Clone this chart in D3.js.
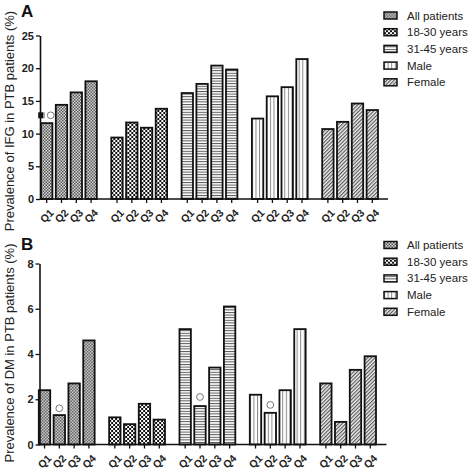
<!DOCTYPE html>
<html><head><meta charset="utf-8">
<script src="https://cdn.jsdelivr.net/npm/d3@7"></script>
<style>body{margin:0;background:#fff}svg{display:block}text{font-family:"Liberation Sans",Arial,sans-serif}</style>
</head><body>
<script>
// ---- data ----
const groups = ["All patients", "18-30 years", "31-45 years", "Male", "Female"];
const quarters = ["Q1", "Q2", "Q3", "Q4"];
// Panel A: prevalence of IFG (%)
const ifgAll    = [11.6, 14.4, 16.3, 18.0];
const ifg1830   = [9.4, 11.7, 10.9, 13.8];
const ifg3145   = [16.2, 17.6, 20.4, 19.8];
const ifgMale   = [12.3, 15.7, 17.1, 21.4];
const ifgFemale = [10.7, 11.8, 14.6, 13.6];
// Panel B: prevalence of DM (%)
const dmAll    = [2.4, 1.3, 2.7, 4.6];
const dm1830   = [1.2, 0.9, 1.8, 1.1];
const dm3145   = [5.1, 1.7, 3.4, 6.1];
const dmMale   = [2.2, 1.4, 2.4, 5.1];
const dmFemale = [2.7, 1.0, 3.3, 3.9];
const ifgTicks = [0, 5, 10, 15, 20, 25];
const dmTicks = [0, 2, 4, 6, 8];
// significance markers: [group index, quarter index, value]
const ifgSquareMarks = [[0, 0, 12.8]];
const ifgCircleMarks = [[0, 0, 12.8]];
const dmCircleMarks = [[0, 1, 1.6], [2, 1, 2.1], [3, 1, 1.75]];

const W = 472, H = 470;
const svg = d3.select("body").append("svg").attr("width", W).attr("height", H);
svg.append("rect").attr("width", W).attr("height", H).attr("fill", "#fff");

// ---- patterns ----
const defs = svg.append("defs");
const pats = ["pAll", "p1830", "p3145", "pMale", "pFemale"];
let p = defs.append("pattern").attr("id", "pAll").attr("patternUnits", "userSpaceOnUse").attr("width", 3).attr("height", 3);
p.append("rect").attr("width", 3).attr("height", 3).attr("fill", "#d8d8d8");
p.append("rect").attr("width", 1.5).attr("height", 1.5).attr("fill", "#555");
p.append("rect").attr("x", 1.5).attr("y", 1.5).attr("width", 1.5).attr("height", 1.5).attr("fill", "#555");
p = defs.append("pattern").attr("id", "p1830").attr("patternUnits", "userSpaceOnUse").attr("width", 4).attr("height", 4);
p.append("rect").attr("width", 4).attr("height", 4).attr("fill", "#fff");
p.append("rect").attr("width", 2).attr("height", 2).attr("fill", "#111");
p.append("rect").attr("x", 2).attr("y", 2).attr("width", 2).attr("height", 2).attr("fill", "#111");
p = defs.append("pattern").attr("id", "p3145").attr("patternUnits", "userSpaceOnUse").attr("width", 4).attr("height", 2.6);
p.append("rect").attr("width", 4).attr("height", 2.6).attr("fill", "#fff");
p.append("rect").attr("width", 4).attr("height", 1).attr("fill", "#555");
p = defs.append("pattern").attr("id", "pMale").attr("patternUnits", "userSpaceOnUse").attr("width", 3.6).attr("height", 4);
p.append("rect").attr("width", 3.6).attr("height", 4).attr("fill", "#fff");
p.append("rect").attr("width", 1).attr("height", 4).attr("fill", "#888");
p = defs.append("pattern").attr("id", "pFemale").attr("patternUnits", "userSpaceOnUse").attr("width", 2.6).attr("height", 2.6).attr("patternTransform", "rotate(45)");
p.append("rect").attr("width", 2.6).attr("height", 2.6).attr("fill", "#ececec");
p.append("rect").attr("width", 1.1).attr("height", 2.6).attr("fill", "#555");

function panel(cfg) {
  const { series, ticks, yMax, y0, y1, xL, xR, axisX, axisEnd, letter, letterY, title, titleY, legendY, marks } = cfg;
  const g = svg.append("g");
  const y = d3.scaleLinear().domain([0, yMax]).range([y0, y1]);
  const xg = d3.scaleBand().domain(groups).range([xL, xR]).paddingInner(0.206).paddingOuter(0);
  const xq = d3.scaleBand().domain(quarters).range([0, xg.bandwidth()]).paddingInner(0.23).paddingOuter(0);

  // bars
  groups.forEach((gn, gi) => {
    const gg = g.append("g").attr("transform", `translate(${xg(gn)},0)`);
    gg.selectAll("rect").data(series[gi]).join("rect")
      .attr("x", (d, i) => xq(quarters[i]))
      .attr("y", d => y(d))
      .attr("width", xq.bandwidth())
      .attr("height", d => y(0) - y(d))
      .attr("fill", `url(#${pats[gi]})`)
      .attr("stroke", "#111").attr("stroke-width", 1.8);
    // x axis ticks/labels for this group
    const ax = gg.append("g").attr("transform", `translate(0,${y0})`)
      .call(d3.axisBottom(xq).tickSize(4).tickSizeOuter(0));
    ax.select(".domain").remove();
    ax.selectAll(".tick line").attr("stroke", "#111").attr("stroke-width", 1.3);
    ax.selectAll(".tick text")
      .attr("font-size", 10.5).attr("font-weight", "bold").attr("fill", "#222")
      .attr("text-anchor", "end").attr("dy", "0.35em").attr("y", 0)
      .attr("transform", "translate(5,12) rotate(-45)");
  });

  // x axis line
  g.append("line").attr("x1", axisX).attr("x2", axisEnd).attr("y1", y0).attr("y2", y0)
    .attr("stroke", "#111").attr("stroke-width", 1.6);
  // y axis
  const ay = g.append("g").attr("transform", `translate(${axisX},0)`)
    .call(d3.axisLeft(y).tickValues(ticks).tickSize(4).tickSizeOuter(0).tickPadding(2));
  ay.select(".domain").attr("stroke", "#111").attr("stroke-width", 1.6);
  ay.selectAll(".tick line").attr("stroke", "#111").attr("stroke-width", 1.3);
  ay.selectAll(".tick text").attr("font-size", 11).attr("font-weight", "bold").attr("fill", "#222").attr("font-family", "Liberation Sans, Arial, sans-serif");

  // markers
  const cx = (gi, qi) => xg(groups[gi]) + xq(quarters[qi]) + xq.bandwidth() / 2;
  (marks.squares || []).forEach(([gi, qi, v]) => {
    g.append("rect").attr("x", cx(gi, qi) - 8.5).attr("y", y(v) - 3).attr("width", 5).attr("height", 6).attr("fill", "#111");
    g.append("rect").attr("x", cx(gi, qi) - 3.5).attr("y", y(v) - 3).attr("width", 1.5).attr("height", 6).attr("fill", "#888");
  });
  (marks.circles || []).forEach(([gi, qi, v]) => {
    g.append("circle").attr("cx", cx(gi, qi) + ((marks.squares || []).length ? 4 : 0)).attr("cy", y(v)).attr("r", 3.4)
      .attr("fill", "#fff").attr("stroke", "#777").attr("stroke-width", 1);
  });

  // letter + title
  g.append("text").attr("x", 21).attr("y", letterY).text(letter)
    .attr("font-size", 17).attr("font-weight", "bold").attr("fill", "#111");
  g.append("text").attr("transform", `translate(14,${titleY}) rotate(-90)`)
    .attr("text-anchor", "middle").attr("font-size", 13).attr("fill", "#222").text(title);

  // legend
  const lg = g.append("g").attr("transform", `translate(384,${legendY})`);
  groups.forEach((gn, gi) => {
    const row = lg.append("g").attr("transform", `translate(0,${gi * 16.7})`);
    row.append("rect").attr("x", 0).attr("y", -3.5).attr("width", 13).attr("height", 7)
      .attr("fill", `url(#${pats[gi]})`).attr("stroke", "#111").attr("stroke-width", 1.5);
    row.append("text").attr("x", 23).attr("y", 0).attr("dy", "0.35em").attr("font-size", 11.5).attr("fill", "#222").text(gn);
  });
}

panel({
  series: [ifgAll, ifg1830, ifg3145, ifgMale, ifgFemale], ticks: ifgTicks, yMax: 25,
  y0: 199, y1: 35.5, xL: 41, xR: 378, axisX: 40, axisEnd: 388,
  letter: "A", letterY: 16.5, title: "Prevalence of IFG in PTB patients (%)", titleY: 121,
  legendY: 15.5, marks: { squares: ifgSquareMarks, circles: ifgCircleMarks }
});
panel({
  series: [dmAll, dm1830, dm3145, dmMale, dmFemale], ticks: dmTicks, yMax: 8,
  y0: 444.5, y1: 263.5, xL: 38.8, xR: 376, axisX: 39.5, axisEnd: 386.5,
  letter: "B", letterY: 250, title: "Prevalence of DM in PTB patients (%)", titleY: 353,
  legendY: 245, marks: { circles: dmCircleMarks }
});
</script>
</body></html>
